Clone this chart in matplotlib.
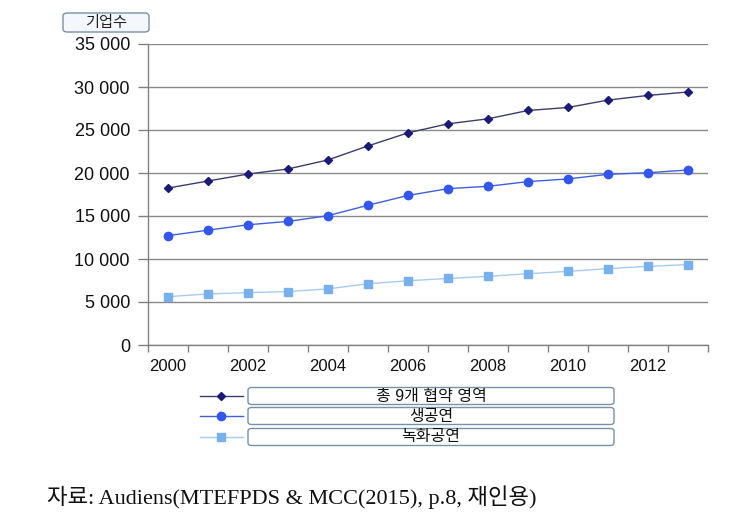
import matplotlib
matplotlib.use('Agg')
import matplotlib.pyplot as plt
from matplotlib.lines import Line2D
from matplotlib.patches import FancyBboxPatch
from matplotlib.ticker import FuncFormatter, MultipleLocator

W, H = 735, 521

years = list(range(2000, 2014))
total = [18250, 19070, 19880, 20470, 21520, 23150, 24670, 25720, 26300, 27270, 27620, 28480, 29020, 29420]
live = [12720, 13350, 13980, 14370, 15040, 16250, 17390, 18180, 18450, 19000, 19310, 19850, 20030, 20350]
recorded = [5620, 5940, 6090, 6210, 6530, 7120, 7470, 7740, 7980, 8290, 8560, 8880, 9150, 9350]
names = ['총 9개 협약 영역', '생공연', '녹화공연']
y_label = '기업수'
source = '자료: Audiens(MTEFPDS & MCC(2015), p.8, 재인용)'

styles = [
    dict(color='#3c3c70', marker='D', ms=4, mfc='#1a1a78', mec='#1a1a78', lw=1.0),
    dict(color='#3f5fe0', marker='o', ms=6, mfc='#3355f0', mec='#3355f0', lw=1.0),
    dict(color='#a8ccf0', marker='s', ms=5.5, mfc='#78b0ee', mec='#78b0ee', lw=1.0),
]

plt.rcParams['font.family'] = ['Liberation Sans', 'Noto Sans CJK KR']

fig = plt.figure(figsize=(W / 100, H / 100), dpi=100)
ax = fig.add_axes([148 / W, 1 - 345 / H, (708 - 148) / W, (345 - 44) / H])

idx = list(range(len(years)))
for vals, st in zip([total, live, recorded], styles):
    ax.plot(idx, vals, **st)

ax.set_xlim(-0.5, len(years) - 0.5)
ax.set_ylim(0, 35000)
ax.yaxis.set_major_locator(MultipleLocator(5000))
ax.yaxis.set_major_formatter(FuncFormatter(lambda v, p: f'{int(v):,}'.replace(',', ' ')))
ax.set_xticks(idx[::2])
ax.set_xticklabels([str(y) for y in years[::2]])
ax.set_xticks([i - 0.5 for i in range(len(years) + 1)], minor=True)
ax.tick_params(axis='x', which='major', length=0, pad=10, labelsize=12, colors='#111111')
ax.tick_params(axis='x', which='minor', length=5, color='#808080', width=1)
ax.tick_params(axis='y', length=7, color='#808080', width=1, labelsize=13, pad=6)
ax.tick_params(axis='y', colors='#808080', labelcolor='#111111')
ax.grid(axis='y', color='#8a8a8a', lw=1)
ax.set_axisbelow(True)
for s in ['top', 'right']:
    ax.spines[s].set_visible(False)
for s in ['left', 'bottom']:
    ax.spines[s].set_color('#808080')
    ax.spines[s].set_linewidth(1)

# y-axis title box
fig.patches.append(FancyBboxPatch((63 / W, 1 - 32 / H), 86 / W, 19 / H,
                                  boxstyle='round,pad=0,rounding_size=0.006',
                                  transform=fig.transFigure, fc='#f4f8fc', ec='#7890a8', lw=1))
fig.text(106 / W, 1 - 22.5 / H, y_label, ha='center', va='center', fontsize=11, color='#222222')

# legend
rows = [396, 416, 437]
for name, st, yy in zip(names, styles, rows):
    fy = 1 - yy / H
    fig.add_artist(Line2D([200 / W, 243 / W], [fy, fy], transform=fig.transFigure,
                          color=st['color'], lw=st['lw']))
    fig.add_artist(Line2D([221 / W], [fy], transform=fig.transFigure, linestyle='none',
                          marker=st['marker'], ms=st['ms'], mfc=st['mfc'], mec=st['mec']))
    fig.patches.append(FancyBboxPatch((248 / W, fy - 8.5 / H), (614 - 248) / W, 17 / H,
                                      boxstyle='round,pad=0,rounding_size=0.005',
                                      transform=fig.transFigure, fc='white', ec='#7890a8', lw=1))
    fig.text(431 / W, fy, name, ha='center', va='center', fontsize=11.5, color='#111111')

fig.text(47 / W, 1 - 497 / H, source, ha='left', va='center', fontsize=16,
         family=['Liberation Serif', 'Noto Sans CJK KR'], color='#111111')

fig.savefig('out.png', dpi=100)
